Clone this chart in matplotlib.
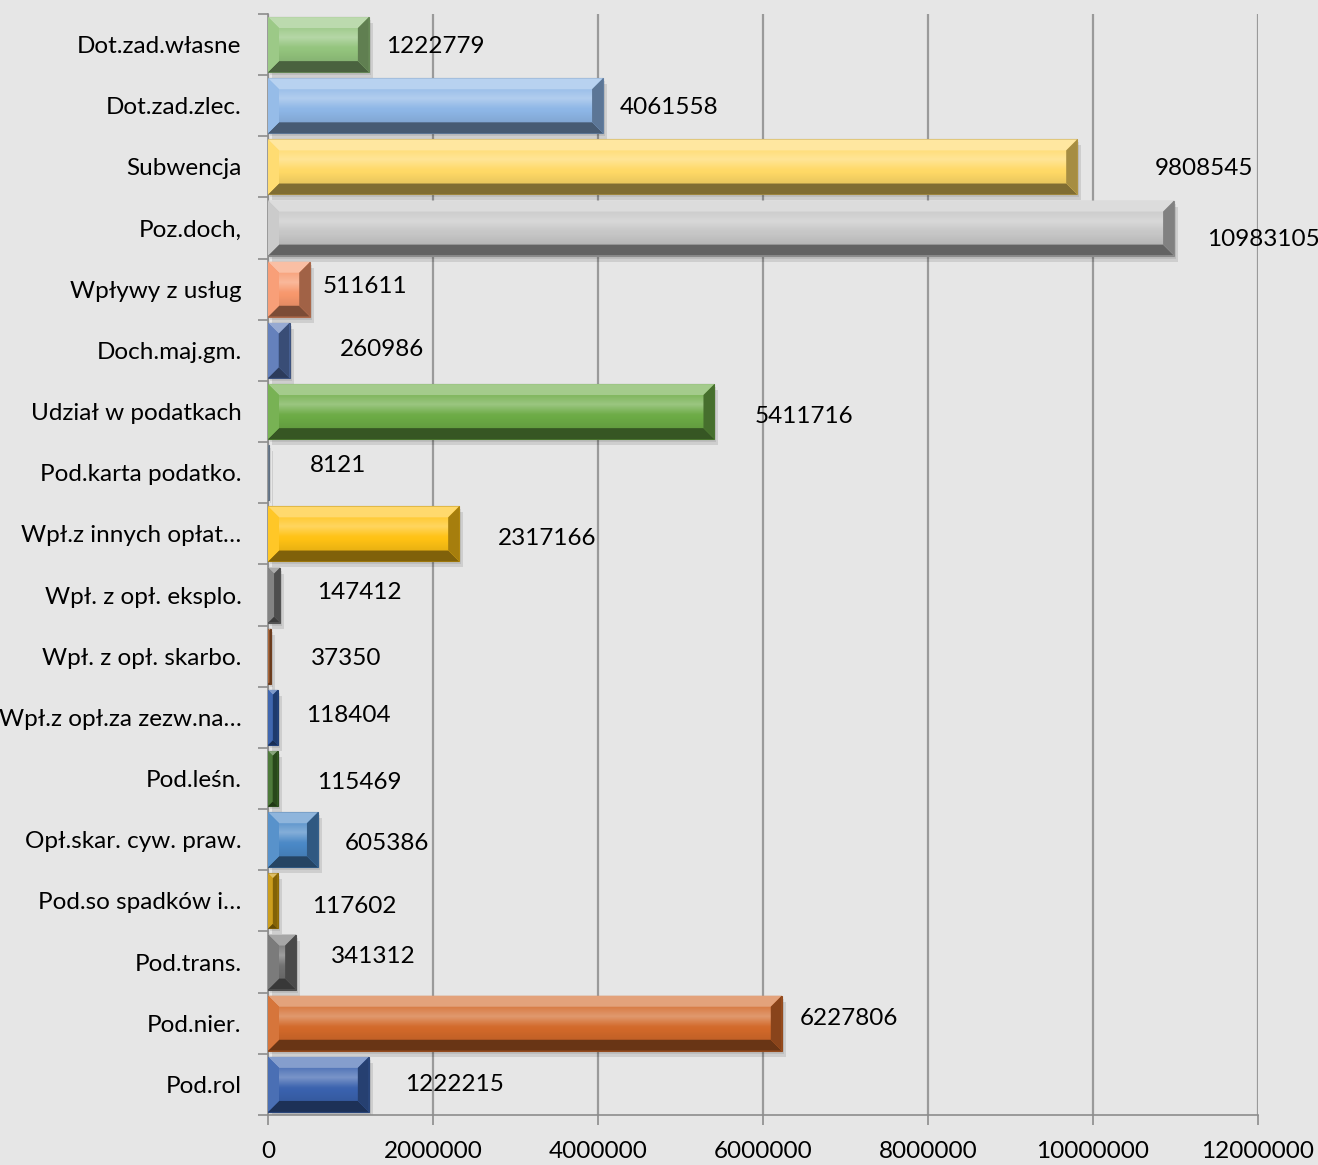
import numpy as np
import matplotlib.pyplot as plt
from matplotlib.patches import Polygon, Rectangle
import matplotlib.colors as mcolors

# dane (od gory do dolu)
kategorie = ['Dot.zad.własne', 'Dot.zad.zlec.', 'Subwencja', 'Poz.doch,',
             'Wpływy z usług', 'Doch.maj.gm.', 'Udział w podatkach',
             'Pod.karta podatko.', 'Wpł.z innych opłat…', 'Wpł. z opł. eksplo.',
             'Wpł. z opł. skarbo.', 'Wpł.z opł.za zezw.na…', 'Pod.leśn.',
             'Opł.skar. cyw. praw.', 'Pod.so spadków i…', 'Pod.trans.',
             'Pod.nier.', 'Pod.rol']
wartosci = [1222779, 4061558, 9808545, 10983105, 511611, 260986, 5411716,
            8121, 2317166, 147412, 37350, 118404, 115469, 605386, 117602,
            341312, 6227806, 1222215]
kolory = ['#93c47d', '#8db6e6', '#ffd966', '#c6c6c6', '#f7976c', '#5876b6',
          '#6cab45', '#8aa0b8', '#ffc214', '#787878', '#a05a2c', '#2f5aa8',
          '#3f6e2a', '#4a88c6', '#c8960a', '#707070', '#d2692a', '#3a62ae']
# przesuniecie etykiet (piksele: dx od konca slupka, dy w gore)
etykiety_dx = [17, 17, 78, 33, 12, 50, 40, 41, 39, 37, 40, 28, 40, 27, 34, 35, 18, 36]
etykiety_dy = [0, 0, 0, -9, 5, 3, -3, 9, -3, 5, 0, 4, -2, -2, -4, 8, 7, 2]
x_ticks = [0, 2000000, 4000000, 6000000, 8000000, 10000000, 12000000]

bg = '#e6e6e6'
W, H = 1318, 1165
fig = plt.figure(figsize=(W / 100, H / 100), dpi=100, facecolor=bg)
ax = fig.add_axes([268 / W, 1 - 1115 / H, 990 / W, 1101 / H], facecolor=bg)

font = ['Lato', 'DejaVu Sans']
fs = 17.5
n = len(kategorie)
y = np.arange(n)
h = 0.9
ax.set_xlim(0, 12000000)
ax.set_ylim(n - 0.5, -0.5)

pxx = 990 / 12000000.0   # piksele na jednostke x
pxy = 1101 / n           # piksele na jednostke y


def shade(c, f):
    r = np.array(mcolors.to_rgb(c))
    if f > 0:
        r = r + (1 - r) * f
    else:
        r = r * (1 + f)
    return np.clip(r, 0, 1)


# profil gradientu czola slupka (od gory do dolu)
prof_t = np.linspace(0, 1, 64)
prof_f = np.interp(prof_t, [0, 0.3, 0.6, 1.0], [0.12, 0.32, 0.02, -0.08])

for i, (v, c) in enumerate(zip(wartosci, kolory)):
    y0, y1 = i - h / 2, i + h / 2
    # cien
    ax.add_patch(Rectangle((4 / pxx, y0 + 6 / pxy), v, h, color='black',
                           alpha=0.10, lw=0, zorder=2))
    ax.add_patch(Rectangle((2 / pxx, y0 + 3 / pxy), v, h, color='black',
                           alpha=0.08, lw=0, zorder=2))
    ax.barh(i, v, height=h, color=c, edgecolor=shade(c, -0.3), lw=0.8, zorder=3)
    bv = 11
    bx = min(bv / pxx, v / 2)
    by = min(bv / pxy, h / 2, bx * pxx / pxy)
    if bx * pxx > by * pxy:
        bx = by * pxy / pxx
    ix0, ix1 = bx, v - bx
    iy0, iy1 = y0 + by, y1 - by
    if ix1 > ix0:
        grad = np.array([shade(c, f) for f in prof_f])[:, None, :]
        ax.imshow(grad, extent=(ix0, ix1, iy1, iy0), aspect='auto',
                  interpolation='bilinear', zorder=3.5)
    parts = [
        ([(0, y0), (v, y0), (ix1, iy0), (ix0, iy0)], 0.38),     # gora
        ([(0, y1), (v, y1), (ix1, iy1), (ix0, iy1)], -0.5),     # dol
        ([(0, y0), (ix0, iy0), (ix0, iy1), (0, y1)], 0.08),     # lewo
        ([(v, y0), (ix1, iy0), (ix1, iy1), (v, y1)], -0.35),    # prawo
    ]
    for pts, f in parts:
        ax.add_patch(Polygon(pts, closed=True, color=shade(c, f), lw=0, zorder=4))
    ax.annotate(str(v), xy=(v, i), xytext=(etykiety_dx[i], etykiety_dy[i] - 2),
                textcoords='offset pixels', ha='left', va='center',
                fontsize=fs, family=font, color='black', zorder=6)

ax.set_xlim(0, 12000000)
ax.set_ylim(n - 0.5, -0.5)
ax.set_xticks(x_ticks)
ax.set_xticklabels([str(t) for t in x_ticks], fontsize=fs, family=font)
ax.set_yticks(y)
ax.set_yticklabels(kategorie, fontsize=fs, family=font)
ax.set_yticks(np.arange(n + 1) - 0.5, minor=True)
ax.tick_params(axis='y', which='major', length=0, pad=19)
ax.tick_params(axis='y', which='minor', length=7, color='#8c8c8c', width=1.2)
ax.tick_params(axis='x', which='major', length=7, color='#8c8c8c', width=1.2, pad=12)

ax.grid(axis='x', color='#9a9a9a', lw=1.6, zorder=1)
ax.set_axisbelow(True)
for s in ['top', 'right']:
    ax.spines[s].set_visible(False)
for s in ['left', 'bottom']:
    ax.spines[s].set_color('#8c8c8c')
    ax.spines[s].set_linewidth(1.2)

fig.savefig('out.png', dpi=100, facecolor=bg)
